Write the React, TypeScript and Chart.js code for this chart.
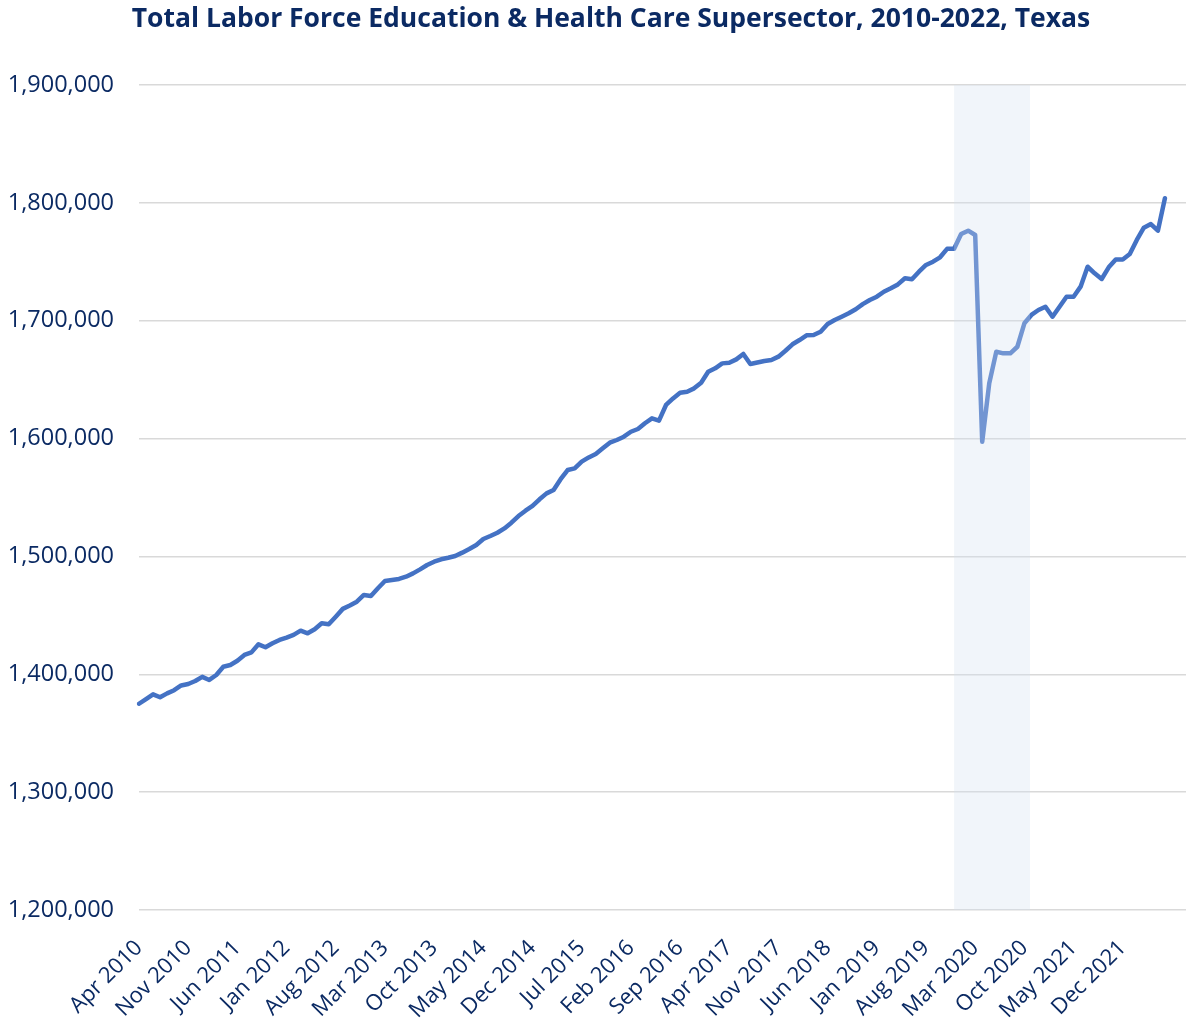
import React, { useEffect, useRef } from 'react';
import { Chart, registerables } from 'chart.js';

Chart.register(...registerables);

// ---- Data ----
const TITLE = 'Total Labor Force Education & Health Care Supersector, 2010-2022, Texas';
const MONTHS = ['Jan', 'Feb', 'Mar', 'Apr', 'May', 'Jun', 'Jul', 'Aug', 'Sep', 'Oct', 'Nov', 'Dec'];
const START_YEAR = 2010;
const START_MONTH = 3; // April
const CATEGORY_COUNT = 150; // Apr 2010 .. Sep 2022 (last months without data)

const TICK_LABELS = [
  'Apr 2010', 'Nov 2010', 'Jun 2011', 'Jan 2012', 'Aug 2012', 'Mar 2013', 'Oct 2013',
  'May 2014', 'Dec 2014', 'Jul 2015', 'Feb 2016', 'Sep 2016', 'Apr 2017', 'Nov 2017',
  'Jun 2018', 'Jan 2019', 'Aug 2019', 'Mar 2020', 'Oct 2020', 'May 2021', 'Dec 2021',
];

const Y_TICKS = [1200000, 1300000, 1400000, 1500000, 1600000, 1700000, 1800000, 1900000];

const values2010 = [1375000, 1379000, 1383000, 1380500, 1383800, 1386500, 1390500, 1391800, 1394300];
const values2011 = [1397800, 1395200, 1399400, 1406400, 1407900, 1411500, 1416400, 1418600, 1425400, 1422900, 1426300, 1429100];
const values2012 = [1431100, 1433400, 1437000, 1434800, 1438200, 1443300, 1442400, 1448900, 1455500, 1458400, 1461600, 1467300];
const values2013 = [1466400, 1473000, 1479200, 1480000, 1480900, 1482800, 1485600, 1489000, 1492700, 1495500, 1497600, 1498900];
const values2014 = [1500400, 1503200, 1506300, 1509700, 1514800, 1517300, 1520100, 1523800, 1528600, 1534300, 1538800, 1542800];
const values2015 = [1548500, 1553500, 1556400, 1565500, 1573300, 1574700, 1580400, 1584000, 1586900, 1591700, 1596500, 1598800];
const values2016 = [1601600, 1605800, 1608100, 1613000, 1617200, 1615200, 1628500, 1634100, 1638900, 1639800, 1642600, 1647400];
const values2017 = [1656700, 1659600, 1663800, 1664300, 1667200, 1671800, 1663300, 1664600, 1665800, 1666700, 1669500, 1674500];
const values2018 = [1680000, 1683600, 1687600, 1687900, 1690700, 1697200, 1700600, 1703400, 1706300, 1709700, 1714100, 1717600];
const values2019 = [1720400, 1724600, 1727500, 1730800, 1736000, 1735100, 1741600, 1747300, 1750100, 1753800, 1761000, 1761000];
const values2020 = [1773600, 1776400, 1772700, 1597400, 1646900, 1673700, 1672300, 1672300, 1677900, 1697800, 1704900, 1709100];
const values2021 = [1711900, 1703400, 1711900, 1720400, 1720400, 1728900, 1745800, 1740200, 1735400, 1745300, 1752000, 1752000];
const values2022 = [1756600, 1768500, 1778900, 1782000, 1776400, 1803900];

const SHADE_START = 'Dec 2019';
const SHADE_MONTHS = 10.8;

// ---- Derived ----
const CATEGORIES: string[] = Array.from({ length: CATEGORY_COUNT }, (_, i) => {
  const m = START_MONTH + i;
  return `${MONTHS[m % 12]} ${START_YEAR + Math.floor(m / 12)}`;
});

const SERIES: (number | null)[] = [
  ...values2010, ...values2011, ...values2012, ...values2013, ...values2014, ...values2015,
  ...values2016, ...values2017, ...values2018, ...values2019, ...values2020, ...values2021, ...values2022,
];
while (SERIES.length < CATEGORY_COUNT) SERIES.push(null);

const NAVY = '#0B2A63';
const FONT = "'Open Sans', 'Noto Sans', sans-serif";
const Y_TICK_SIZE = 23.5;
const X_TICK_SIZE = 22;

const shadePlugin = {
  id: 'shadeBand',
  afterDatasetsDraw(chart: any) {
    const { ctx, chartArea, scales } = chart;
    const x = scales.x;
    const i0 = CATEGORIES.indexOf(SHADE_START);
    const step = x.getPixelForValue(1) - x.getPixelForValue(0);
    const x0 = x.getPixelForValue(i0);
    const x1 = x0 + SHADE_MONTHS * step;
    ctx.save();
    ctx.fillStyle = 'rgba(212, 223, 241, 0.32)';
    ctx.fillRect(x0, chartArea.top, x1 - x0, chartArea.bottom - chartArea.top);
    ctx.restore();
  },
};

const titlePlugin = {
  id: 'customTitle',
  afterDraw(chart: any) {
    const { ctx } = chart;
    ctx.save();
    ctx.font = `bold 26.5px ${FONT}`;
    ctx.fillStyle = NAVY;
    ctx.textAlign = 'center';
    ctx.textBaseline = 'middle';
    ctx.fillText(TITLE, chart.width / 2 + 18, 19);
    ctx.restore();
  },
};

export default function App() {
  const canvasRef = useRef<HTMLCanvasElement | null>(null);

  useEffect(() => {
    document.body.style.margin = '0';
    const canvas = canvasRef.current;
    if (!canvas) return;
    const chart = new Chart(canvas, {
      type: 'line',
      data: {
        labels: CATEGORIES,
        datasets: [
          {
            label: 'Total Labor Force',
            data: SERIES,
            borderColor: '#4472C4',
            backgroundColor: '#4472C4',
            borderWidth: 4.5,
            pointRadius: 0,
            pointHoverRadius: 0,
            tension: 0,
            borderJoinStyle: 'round',
            borderCapStyle: 'round',
            spanGaps: false,
          },
        ],
      },
      options: {
        responsive: false,
        maintainAspectRatio: false,
        animation: false,
        layout: { padding: { top: 85, right: 0, left: 0, bottom: 0 } },
        plugins: {
          legend: { display: false },
          title: { display: false },
          tooltip: { enabled: false },
        },
        scales: {
          x: {
            type: 'category',
            offset: false,
            grid: { display: false, drawTicks: false },
            border: { display: false },
            afterFit(scale: any) {
              scale.height = 116;
            },
            ticks: {
              autoSkip: false,
              maxRotation: 45,
              minRotation: 45,
              padding: 25,
              color: NAVY,
              font: { family: FONT, size: X_TICK_SIZE },
              callback(_v: any, index: number) {
                const lab = CATEGORIES[index];
                return TICK_LABELS.includes(lab) ? lab : null;
              },
            },
          },
          y: {
            min: Y_TICKS[0],
            max: Y_TICKS[Y_TICKS.length - 1],
            border: { display: false },
            grid: { color: '#D9D9D9', lineWidth: 1.5, drawTicks: false },
            afterFit(scale: any) {
              scale.width = 139;
            },
            afterBuildTicks(scale: any) {
              scale.ticks = Y_TICKS.map((v) => ({ value: v }));
            },
            ticks: {
              padding: 25,
              color: NAVY,
              font: { family: FONT, size: Y_TICK_SIZE },
              callback(v: any) {
                return Number(v).toLocaleString('en-US');
              },
            },
          },
        },
      },
      plugins: [shadePlugin, titlePlugin],
    });
    return () => chart.destroy();
  }, []);

  return (
    <div style={{ position: 'absolute', left: 0, top: 0, width: 1186, height: 1026, background: '#fff' }}>
      <canvas ref={canvasRef} width={1186} height={1026} style={{ width: 1186, height: 1026, display: 'block' }} />
    </div>
  );
}
